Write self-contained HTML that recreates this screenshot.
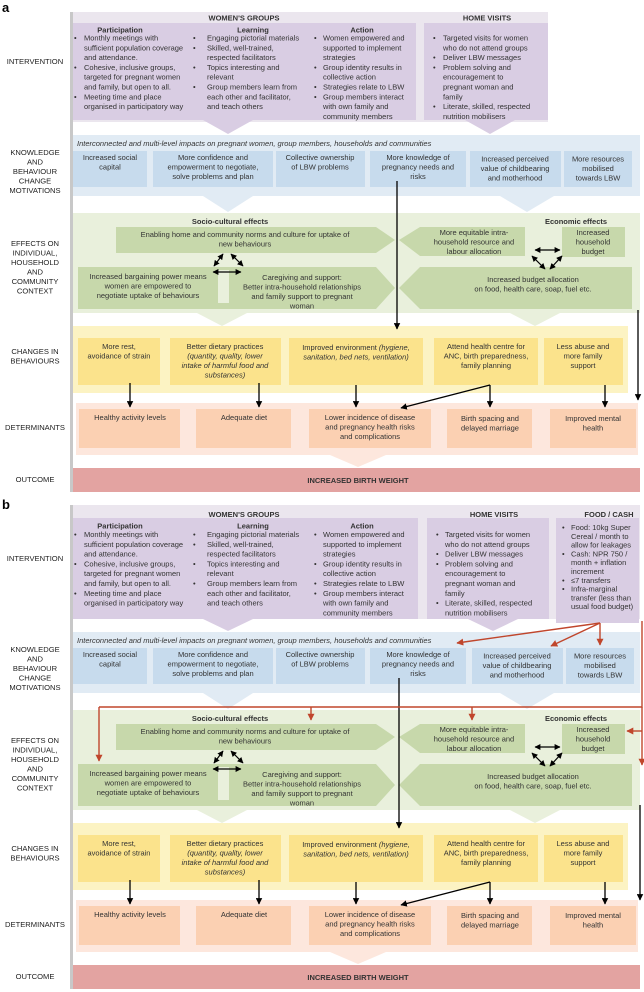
<!DOCTYPE html>
<html><head><meta charset="utf-8"><style>
html,body{margin:0;padding:0;background:#fff;}
svg{display:block;font-family:"Liberation Sans",Arial,sans-serif;}
.t{font-size:7.5px;fill:#333;}
.c{text-anchor:middle;}
.h{font-weight:bold;}
.i{font-style:italic;}
.l{font-size:7.6px;fill:#222;text-anchor:middle;}
</style></head><body>
<svg width="644" height="992" viewBox="0 0 644 992" xmlns="http://www.w3.org/2000/svg">
<defs>
<marker id="ab" viewBox="0 0 10 10" refX="9" refY="5" markerWidth="5" markerHeight="5" orient="auto-start-reverse"><path d="M0,0L10,5L0,10z" fill="#000"/></marker>
<marker id="ar" viewBox="0 0 10 10" refX="9" refY="5" markerWidth="5" markerHeight="5" orient="auto-start-reverse"><path d="M0,0L10,5L0,10z" fill="#c0462c"/></marker>
</defs>
<text x="2" y="12" font-size="13" font-weight="bold" fill="#000">a</text>
<text x="2" y="509" font-size="13" font-weight="bold" fill="#000">b</text>

<!-- ========== PANEL A ========== -->
<g>
<rect x="70" y="12" width="3" height="480" fill="#c8c8c8"/>
<text class="l" x="35" y="64">INTERVENTION</text>
<text class="l" x="35" y="155">KNOWLEDGE</text><text class="l" x="35" y="164.5">AND</text><text class="l" x="35" y="174">BEHAVIOUR</text><text class="l" x="35" y="183.5">CHANGE</text><text class="l" x="35" y="193">MOTIVATIONS</text>
<text class="l" x="35" y="246">EFFECTS ON</text><text class="l" x="35" y="255.5">INDIVIDUAL,</text><text class="l" x="35" y="265">HOUSEHOLD</text><text class="l" x="35" y="274.5">AND</text><text class="l" x="35" y="284">COMMUNITY</text><text class="l" x="35" y="293.5">CONTEXT</text>
<text class="l" x="35" y="354">CHANGES IN</text><text class="l" x="35" y="363.5">BEHAVIOURS</text>
<text class="l" x="35" y="430">DETERMINANTS</text>
<text class="l" x="35" y="482">OUTCOME</text>
<rect x="73" y="12" width="475" height="110" fill="#ebe6ee"/>
<rect x="73" y="23" width="343" height="97" fill="#d9cde3"/>
<polygon points="203,120 253,120 228,134" fill="#d9cde3"/>
<rect x="424" y="23" width="124" height="97" fill="#d9cde3"/>
<polygon points="465,120 515,120 490,134" fill="#d9cde3"/>
<text class="t h c" x="244" y="20.5">WOMEN'S GROUPS</text>
<text class="t h c" x="487" y="20.5">HOME VISITS</text>
<text class="t h c" x="120" y="32.5" font-size="8">Participation</text>
<text class="t h c" x="253" y="32.5" font-size="8">Learning</text>
<text class="t h c" x="362" y="32.5" font-size="8">Action</text>
<g class="t">
<text x="74" y="40.5">•</text><text x="84" y="40.5">Monthly meetings with</text>
<text x="84" y="50.3">sufficient population coverage</text>
<text x="84" y="60.1">and attendance.</text>
<text x="74" y="69.9">•</text><text x="84" y="69.9">Cohesive, inclusive groups,</text>
<text x="84" y="79.7">targeted for pregnant women</text>
<text x="84" y="89.5">and family, but open to all.</text>
<text x="74" y="99.3">•</text><text x="84" y="99.3">Meeting time and place</text>
<text x="84" y="109.1">organised in participatory way</text>

<text x="193" y="40.5">•</text><text x="207" y="40.5">Engaging pictorial materials</text>
<text x="193" y="50.3">•</text><text x="207" y="50.3">Skilled, well-trained,</text>
<text x="207" y="60.1">respected facilitators</text>
<text x="193" y="69.9">•</text><text x="207" y="69.9">Topics interesting and</text>
<text x="207" y="79.7">relevant</text>
<text x="193" y="89.5">•</text><text x="207" y="89.5">Group members learn from</text>
<text x="207" y="99.3">each other and facilitator,</text>
<text x="207" y="109.1">and teach others</text>

<text x="314" y="40.5">•</text><text x="323" y="40.5">Women empowered and</text>
<text x="323" y="50.3">supported to implement</text>
<text x="323" y="60.1">strategies</text>
<text x="314" y="69.9">•</text><text x="323" y="69.9">Group identity results in</text>
<text x="323" y="79.7">collective action</text>
<text x="314" y="89.5">•</text><text x="323" y="89.5">Strategies relate to LBW</text>
<text x="314" y="99.3">•</text><text x="323" y="99.3">Group members interact</text>
<text x="323" y="109.1">with own family and</text>
<text x="323" y="118.9">community members</text>

<text x="433" y="40.5">•</text><text x="443" y="40.5">Targeted visits for women</text>
<text x="443" y="50.3">who do not attend groups</text>
<text x="433" y="60.1">•</text><text x="443" y="60.1">Deliver LBW messages</text>
<text x="433" y="69.9">•</text><text x="443" y="69.9">Problem solving and</text>
<text x="443" y="79.7">encouragement to</text>
<text x="443" y="89.5">pregnant woman and</text>
<text x="443" y="99.3">family</text>
<text x="433" y="109.1">•</text><text x="443" y="109.1">Literate, skilled, respected</text>
<text x="443" y="118.9">nutrition mobilisers</text>
</g>
</g>

<g>
<rect x="73" y="135" width="567" height="61" fill="#e1ebf4"/>
<polygon points="203,196 253,196 228,212" fill="#e1ebf4"/>
<polygon points="500,196 554,196 527,212" fill="#e1ebf4"/>
<text class="t i" x="77" y="146">Interconnected and multi-level impacts on pregnant women, group members, households and communities</text>
<rect x="73" y="151" width="74" height="36" fill="#c7dbed"/>
<rect x="153" y="151" width="120" height="36" fill="#c7dbed"/>
<rect x="276" y="151" width="89" height="36" fill="#c7dbed"/>
<rect x="370" y="151" width="96" height="36" fill="#c7dbed"/>
<rect x="470" y="151" width="91" height="36" fill="#c7dbed"/>
<rect x="564" y="151" width="68" height="36" fill="#c7dbed"/>
<g class="t c">
<text x="110" y="160">Increased social</text><text x="110" y="169.5">capital</text>
<text x="213" y="160">More confidence and</text><text x="213" y="169.5">empowerment to negotiate,</text><text x="213" y="179">solve problems and plan</text>
<text x="320" y="160">Collective ownership</text><text x="320" y="169.5">of LBW problems</text>
<text x="418" y="160">More knowledge of</text><text x="418" y="169.5">pregnancy needs and</text><text x="418" y="179">risks</text>
<text x="515" y="161.5">Increased perceived</text><text x="515" y="171">value of childbearing</text><text x="515" y="180.5">and motherhood</text>
<text x="598" y="161.5">More resources</text><text x="598" y="171">mobilised</text><text x="598" y="180.5">towards LBW</text>
</g>
<rect x="73" y="213" width="567" height="100" fill="#e9f0dc"/>
<polygon points="197,313 247,313 222,326" fill="#e9f0dc"/>
<polygon points="510,313 560,313 535,326" fill="#e9f0dc"/>
<text class="t h c" x="230" y="224">Socio-cultural effects</text>
<text class="t h c" x="576" y="224">Economic effects</text>
<polygon points="116,227 376,227 395,240 376,253 116,253" fill="#c7d8ab"/>
<polygon points="399,240 420,227 525,227 525,256 420,256" fill="#c7d8ab"/>
<rect x="562" y="227" width="63" height="30" fill="#c7d8ab"/>
<polygon points="78,267 376,267 395,288 376,309 78,309" fill="#c7d8ab"/>
<rect x="218" y="270" width="11" height="33" fill="#e9f0dc"/>
<polygon points="399,288 420,267 632,267 632,309 420,309" fill="#c7d8ab"/>
<g class="t c">
<text x="245" y="237">Enabling home and community norms and culture for uptake of</text><text x="245" y="246.5">new behaviours</text>
<text x="474" y="235">More equitable intra-</text><text x="474" y="244.5">household resource and</text><text x="474" y="254">labour allocation</text>
<text x="593" y="235">Increased</text><text x="593" y="244.5">household</text><text x="593" y="254">budget</text>
<text x="148" y="279">Increased bargaining power means</text><text x="148" y="288.5">women are empowered to</text><text x="148" y="298">negotiate uptake of behaviours</text>
<text x="302" y="280">Caregiving and support:</text><text x="302" y="289.5">Better intra-household relationships</text><text x="302" y="299">and family support to pregnant</text><text x="302" y="308.5">woman</text>
<text x="533" y="282">Increased budget allocation</text><text x="533" y="291.5">on food, health care, soap, fuel etc.</text>
</g>
<g stroke="#000" stroke-width="1.2" fill="none">
<line x1="223" y1="254" x2="214" y2="266" marker-start="url(#ab)" marker-end="url(#ab)"/>
<line x1="231" y1="254" x2="243" y2="266" marker-start="url(#ab)" marker-end="url(#ab)"/>
<line x1="213" y1="272" x2="241" y2="272" marker-start="url(#ab)" marker-end="url(#ab)"/>
<line x1="535" y1="250" x2="560" y2="250" marker-start="url(#ab)" marker-end="url(#ab)"/>
<line x1="532" y1="256" x2="545" y2="269" marker-start="url(#ab)" marker-end="url(#ab)"/>
<line x1="562" y1="256" x2="550" y2="269" marker-start="url(#ab)" marker-end="url(#ab)"/>
</g>
<rect x="73" y="326" width="555" height="67" fill="#fcf3c3"/>
<rect x="78" y="338" width="82" height="47" fill="#fbe38c"/>
<rect x="170" y="338" width="111" height="47" fill="#fbe38c"/>
<rect x="289" y="338" width="134" height="47" fill="#fbe38c"/>
<rect x="434" y="338" width="104" height="47" fill="#fbe38c"/>
<rect x="544" y="338" width="79" height="47" fill="#fbe38c"/>
<g class="t c">
<text x="119" y="349">More rest,</text><text x="119" y="358.5">avoidance of strain</text>
<text x="225" y="349">Better dietary practices</text><text x="225" y="358.5" class="t i c">(quantity, quality, lower</text><text x="225" y="368" class="t i c">intake of harmful food and</text><text x="225" y="377.5" class="t i c">substances)</text>
<text x="356" y="350">Improved environment <tspan font-style="italic">(hygiene,</tspan></text><text x="356" y="359.5" font-style="italic">sanitation, bed nets, ventilation)</text>
<text x="486" y="349">Attend health centre for</text><text x="486" y="358.5">ANC, birth preparedness,</text><text x="486" y="368">family planning</text>
<text x="583" y="349">Less abuse and</text><text x="583" y="358.5">more family</text><text x="583" y="368">support</text>
</g>
<rect x="76" y="403" width="562" height="52" fill="#fde7dd"/>
<polygon points="330,455 386,455 358,467" fill="#fde7dd"/>
<rect x="79" y="409" width="101" height="39" fill="#fbd0b2"/>
<rect x="196" y="409" width="95" height="39" fill="#fbd0b2"/>
<rect x="309" y="409" width="122" height="39" fill="#fbd0b2"/>
<rect x="447" y="409" width="85" height="39" fill="#fbd0b2"/>
<rect x="550" y="409" width="86" height="39" fill="#fbd0b2"/>
<g class="t c">
<text x="130" y="420">Healthy activity levels</text>
<text x="244" y="420">Adequate diet</text>
<text x="370" y="420">Lower incidence of disease</text><text x="370" y="429.5">and pregnancy health risks</text><text x="370" y="439">and complications</text>
<text x="490" y="421">Birth spacing and</text><text x="490" y="430.5">delayed marriage</text>
<text x="593" y="421">Improved mental</text><text x="593" y="430.5">health</text>
</g>
<rect x="73" y="468" width="567" height="24" fill="#e3a3a1"/>
<text class="t h c" x="358" y="483" font-size="8">INCREASED BIRTH WEIGHT</text>
<g stroke="#000" stroke-width="1.3" fill="none">
<line x1="130" y1="383" x2="130" y2="407" marker-end="url(#ab)"/>
<line x1="259" y1="383" x2="259" y2="407" marker-end="url(#ab)"/>
<line x1="356" y1="385" x2="356" y2="407" marker-end="url(#ab)"/>
<line x1="490" y1="385" x2="490" y2="407" marker-end="url(#ab)"/>
<line x1="490" y1="385" x2="401" y2="408" marker-end="url(#ab)"/>
<line x1="605" y1="385" x2="605" y2="407" marker-end="url(#ab)"/>
</g>
</g>
<g stroke="#000" stroke-width="1.3" fill="none">
<line x1="397" y1="181" x2="397" y2="329" marker-end="url(#ab)"/>
<line x1="638" y1="310" x2="638" y2="400" marker-end="url(#ab)"/>
</g>

<!-- ========== PANEL B ========== -->
<g transform="translate(0,497)">
<rect x="70" y="8" width="3" height="484" fill="#c8c8c8"/>
<text class="l" x="35" y="64">INTERVENTION</text>
<text class="l" x="35" y="155">KNOWLEDGE</text><text class="l" x="35" y="164.5">AND</text><text class="l" x="35" y="174">BEHAVIOUR</text><text class="l" x="35" y="183.5">CHANGE</text><text class="l" x="35" y="193">MOTIVATIONS</text>
<text class="l" x="35" y="246">EFFECTS ON</text><text class="l" x="35" y="255.5">INDIVIDUAL,</text><text class="l" x="35" y="265">HOUSEHOLD</text><text class="l" x="35" y="274.5">AND</text><text class="l" x="35" y="284">COMMUNITY</text><text class="l" x="35" y="293.5">CONTEXT</text>
<text class="l" x="35" y="354">CHANGES IN</text><text class="l" x="35" y="363.5">BEHAVIOURS</text>
<text class="l" x="35" y="430">DETERMINANTS</text>
<text class="l" x="35" y="482">OUTCOME</text>
<rect x="73" y="8" width="567" height="114" fill="#ebe6ee"/>
<rect x="73" y="21" width="345" height="101" fill="#d9cde3"/>
<polygon points="203,122 253,122 228,134" fill="#d9cde3"/>
<rect x="427" y="21" width="122" height="101" fill="#d9cde3"/>
<polygon points="468,122 518,122 493,134" fill="#d9cde3"/>
<rect x="556" y="21" width="83" height="105" fill="#d9cde3"/>
<text class="t h c" x="244" y="20">WOMEN'S GROUPS</text>
<text class="t h c" x="494" y="20">HOME VISITS</text>
<text class="t h c" x="609" y="20">FOOD  / CASH</text>
<text class="t h c" x="120" y="31.5" font-size="8">Participation</text>
<text class="t h c" x="253" y="31.5" font-size="8">Learning</text>
<text class="t h c" x="362" y="31.5" font-size="8">Action</text>
<g class="t">
<text x="74" y="40">•</text><text x="84" y="40">Monthly meetings with</text>
<text x="84" y="49.8">sufficient population coverage</text>
<text x="84" y="59.6">and attendance.</text>
<text x="74" y="69.4">•</text><text x="84" y="69.4">Cohesive, inclusive groups,</text>
<text x="84" y="79.2">targeted for pregnant women</text>
<text x="84" y="89">and family, but open to all.</text>
<text x="74" y="98.8">•</text><text x="84" y="98.8">Meeting time and place</text>
<text x="84" y="108.6">organised in participatory way</text>

<text x="193" y="40">•</text><text x="207" y="40">Engaging pictorial materials</text>
<text x="193" y="49.8">•</text><text x="207" y="49.8">Skilled, well-trained,</text>
<text x="207" y="59.6">respected facilitators</text>
<text x="193" y="69.4">•</text><text x="207" y="69.4">Topics interesting and</text>
<text x="207" y="79.2">relevant</text>
<text x="193" y="89">•</text><text x="207" y="89">Group members learn from</text>
<text x="207" y="98.8">each other and facilitator,</text>
<text x="207" y="108.6">and teach others</text>

<text x="314" y="40">•</text><text x="323" y="40">Women empowered and</text>
<text x="323" y="49.8">supported to implement</text>
<text x="323" y="59.6">strategies</text>
<text x="314" y="69.4">•</text><text x="323" y="69.4">Group identity results in</text>
<text x="323" y="79.2">collective action</text>
<text x="314" y="89">•</text><text x="323" y="89">Strategies relate to LBW</text>
<text x="314" y="98.8">•</text><text x="323" y="98.8">Group members interact</text>
<text x="323" y="108.6">with own family and</text>
<text x="323" y="118.4">community members</text>

<text x="436" y="40">•</text><text x="445" y="40">Targeted visits for women</text>
<text x="445" y="49.8">who do not attend groups</text>
<text x="436" y="59.6">•</text><text x="445" y="59.6">Deliver LBW messages</text>
<text x="436" y="69.4">•</text><text x="445" y="69.4">Problem solving and</text>
<text x="445" y="79.2">encouragement to</text>
<text x="445" y="89">pregnant woman and</text>
<text x="445" y="98.8">family</text>
<text x="436" y="108.6">•</text><text x="445" y="108.6">Literate, skilled, respected</text>
<text x="445" y="118.4">nutrition mobilisers</text>

<text x="562" y="33">•</text><text x="571" y="33">Food: 10kg Super</text>
<text x="571" y="41.8">Cereal / month to</text>
<text x="571" y="50.6">allow for leakages</text>
<text x="562" y="59.4">•</text><text x="571" y="59.4">Cash: NPR 750 /</text>
<text x="571" y="68.2">month + inflation</text>
<text x="571" y="77">increment</text>
<text x="562" y="85.8">•</text><text x="571" y="85.8">≤7 transfers</text>
<text x="562" y="94.6">•</text><text x="571" y="94.6">Infra-marginal</text>
<text x="571" y="103.4">transfer (less than</text>
<text x="571" y="112.2">usual food budget)</text>
</g>
</g>
<g transform="translate(0,497)">
<rect x="73" y="135" width="567" height="61" fill="#e1ebf4"/>
<polygon points="203,196 253,196 228,212" fill="#e1ebf4"/>
<polygon points="500,196 554,196 527,212" fill="#e1ebf4"/>
<text class="t i" x="77" y="146">Interconnected and multi-level impacts on pregnant women, group members, households and communities</text>
<rect x="73" y="151" width="74" height="36" fill="#c7dbed"/>
<rect x="153" y="151" width="120" height="36" fill="#c7dbed"/>
<rect x="276" y="151" width="89" height="36" fill="#c7dbed"/>
<rect x="370" y="151" width="96" height="36" fill="#c7dbed"/>
<rect x="472" y="151" width="91" height="36" fill="#c7dbed"/>
<rect x="566" y="151" width="68" height="36" fill="#c7dbed"/>
<g class="t c">
<text x="110" y="160">Increased social</text><text x="110" y="169.5">capital</text>
<text x="213" y="160">More confidence and</text><text x="213" y="169.5">empowerment to negotiate,</text><text x="213" y="179">solve problems and plan</text>
<text x="320" y="160">Collective ownership</text><text x="320" y="169.5">of LBW problems</text>
<text x="418" y="160">More knowledge of</text><text x="418" y="169.5">pregnancy needs and</text><text x="418" y="179">risks</text>
<text x="517" y="161.5">Increased perceived</text><text x="517" y="171">value of childbearing</text><text x="517" y="180.5">and motherhood</text>
<text x="600" y="161.5">More resources</text><text x="600" y="171">mobilised</text><text x="600" y="180.5">towards LBW</text>
</g>
<rect x="73" y="213" width="567" height="100" fill="#e9f0dc"/>
<polygon points="197,313 247,313 222,326" fill="#e9f0dc"/>
<polygon points="510,313 560,313 535,326" fill="#e9f0dc"/>
<text class="t h c" x="230" y="224">Socio-cultural effects</text>
<text class="t h c" x="576" y="224">Economic effects</text>
<polygon points="116,227 376,227 395,240 376,253 116,253" fill="#c7d8ab"/>
<polygon points="399,240 420,227 525,227 525,256 420,256" fill="#c7d8ab"/>
<rect x="562" y="227" width="63" height="30" fill="#c7d8ab"/>
<polygon points="78,267 376,267 395,288 376,309 78,309" fill="#c7d8ab"/>
<rect x="218" y="270" width="11" height="33" fill="#e9f0dc"/>
<polygon points="399,288 420,267 632,267 632,309 420,309" fill="#c7d8ab"/>
<g class="t c">
<text x="245" y="237">Enabling home and community norms and culture for uptake of</text><text x="245" y="246.5">new behaviours</text>
<text x="474" y="235">More equitable intra-</text><text x="474" y="244.5">household resource and</text><text x="474" y="254">labour allocation</text>
<text x="593" y="235">Increased</text><text x="593" y="244.5">household</text><text x="593" y="254">budget</text>
<text x="148" y="279">Increased bargaining power means</text><text x="148" y="288.5">women are empowered to</text><text x="148" y="298">negotiate uptake of behaviours</text>
<text x="302" y="280">Caregiving and support:</text><text x="302" y="289.5">Better intra-household relationships</text><text x="302" y="299">and family support to pregnant</text><text x="302" y="308.5">woman</text>
<text x="533" y="282">Increased budget allocation</text><text x="533" y="291.5">on food, health care, soap, fuel etc.</text>
</g>
<g stroke="#000" stroke-width="1.2" fill="none">
<line x1="223" y1="254" x2="214" y2="266" marker-start="url(#ab)" marker-end="url(#ab)"/>
<line x1="231" y1="254" x2="243" y2="266" marker-start="url(#ab)" marker-end="url(#ab)"/>
<line x1="213" y1="272" x2="241" y2="272" marker-start="url(#ab)" marker-end="url(#ab)"/>
<line x1="535" y1="250" x2="560" y2="250" marker-start="url(#ab)" marker-end="url(#ab)"/>
<line x1="532" y1="256" x2="545" y2="269" marker-start="url(#ab)" marker-end="url(#ab)"/>
<line x1="562" y1="256" x2="550" y2="269" marker-start="url(#ab)" marker-end="url(#ab)"/>
</g>
<rect x="73" y="326" width="555" height="67" fill="#fcf3c3"/>
<rect x="78" y="338" width="82" height="47" fill="#fbe38c"/>
<rect x="170" y="338" width="111" height="47" fill="#fbe38c"/>
<rect x="289" y="338" width="134" height="47" fill="#fbe38c"/>
<rect x="434" y="338" width="104" height="47" fill="#fbe38c"/>
<rect x="544" y="338" width="79" height="47" fill="#fbe38c"/>
<g class="t c">
<text x="119" y="349">More rest,</text><text x="119" y="358.5">avoidance of strain</text>
<text x="225" y="349">Better dietary practices</text><text x="225" y="358.5" class="t i c">(quantity, quality, lower</text><text x="225" y="368" class="t i c">intake of harmful food and</text><text x="225" y="377.5" class="t i c">substances)</text>
<text x="356" y="350">Improved environment <tspan font-style="italic">(hygiene,</tspan></text><text x="356" y="359.5" font-style="italic">sanitation, bed nets, ventilation)</text>
<text x="486" y="349">Attend health centre for</text><text x="486" y="358.5">ANC, birth preparedness,</text><text x="486" y="368">family planning</text>
<text x="583" y="349">Less abuse and</text><text x="583" y="358.5">more family</text><text x="583" y="368">support</text>
</g>
<rect x="76" y="403" width="562" height="52" fill="#fde7dd"/>
<polygon points="330,455 386,455 358,467" fill="#fde7dd"/>
<rect x="79" y="409" width="101" height="39" fill="#fbd0b2"/>
<rect x="196" y="409" width="95" height="39" fill="#fbd0b2"/>
<rect x="309" y="409" width="122" height="39" fill="#fbd0b2"/>
<rect x="447" y="409" width="85" height="39" fill="#fbd0b2"/>
<rect x="550" y="409" width="86" height="39" fill="#fbd0b2"/>
<g class="t c">
<text x="130" y="420">Healthy activity levels</text>
<text x="244" y="420">Adequate diet</text>
<text x="370" y="420">Lower incidence of disease</text><text x="370" y="429.5">and pregnancy health risks</text><text x="370" y="439">and complications</text>
<text x="490" y="421">Birth spacing and</text><text x="490" y="430.5">delayed marriage</text>
<text x="593" y="421">Improved mental</text><text x="593" y="430.5">health</text>
</g>
<rect x="73" y="468" width="567" height="24" fill="#e3a3a1"/>
<text class="t h c" x="358" y="483" font-size="8">INCREASED BIRTH WEIGHT</text>
<g stroke="#000" stroke-width="1.3" fill="none">
<line x1="130" y1="383" x2="130" y2="407" marker-end="url(#ab)"/>
<line x1="259" y1="383" x2="259" y2="407" marker-end="url(#ab)"/>
<line x1="356" y1="385" x2="356" y2="407" marker-end="url(#ab)"/>
<line x1="490" y1="385" x2="490" y2="407" marker-end="url(#ab)"/>
<line x1="490" y1="385" x2="401" y2="408" marker-end="url(#ab)"/>
<line x1="605" y1="385" x2="605" y2="407" marker-end="url(#ab)"/>
<line x1="399" y1="181" x2="399" y2="331" marker-end="url(#ab)"/>
<line x1="640" y1="308" x2="640" y2="403" marker-end="url(#ab)"/>
</g>
<g stroke="#c0462c" stroke-width="1.4" fill="none">
<line x1="600" y1="126" x2="457" y2="146" marker-end="url(#ar)"/>
<line x1="600" y1="126" x2="551" y2="149" marker-end="url(#ar)"/>
<line x1="600" y1="126" x2="600" y2="148" marker-end="url(#ar)"/>
<polyline points="642,124 642,210 99,210"/>
<line x1="99" y1="210" x2="99" y2="264" marker-end="url(#ar)"/>
<line x1="311" y1="210" x2="311" y2="223" marker-end="url(#ar)"/>
<line x1="472" y1="210" x2="472" y2="223" marker-end="url(#ar)"/>
<line x1="642" y1="210" x2="642" y2="268" marker-end="url(#ar)"/>
<line x1="642" y1="234" x2="627" y2="234" marker-end="url(#ar)"/>
</g>
</g>
</svg>
</body></html>
